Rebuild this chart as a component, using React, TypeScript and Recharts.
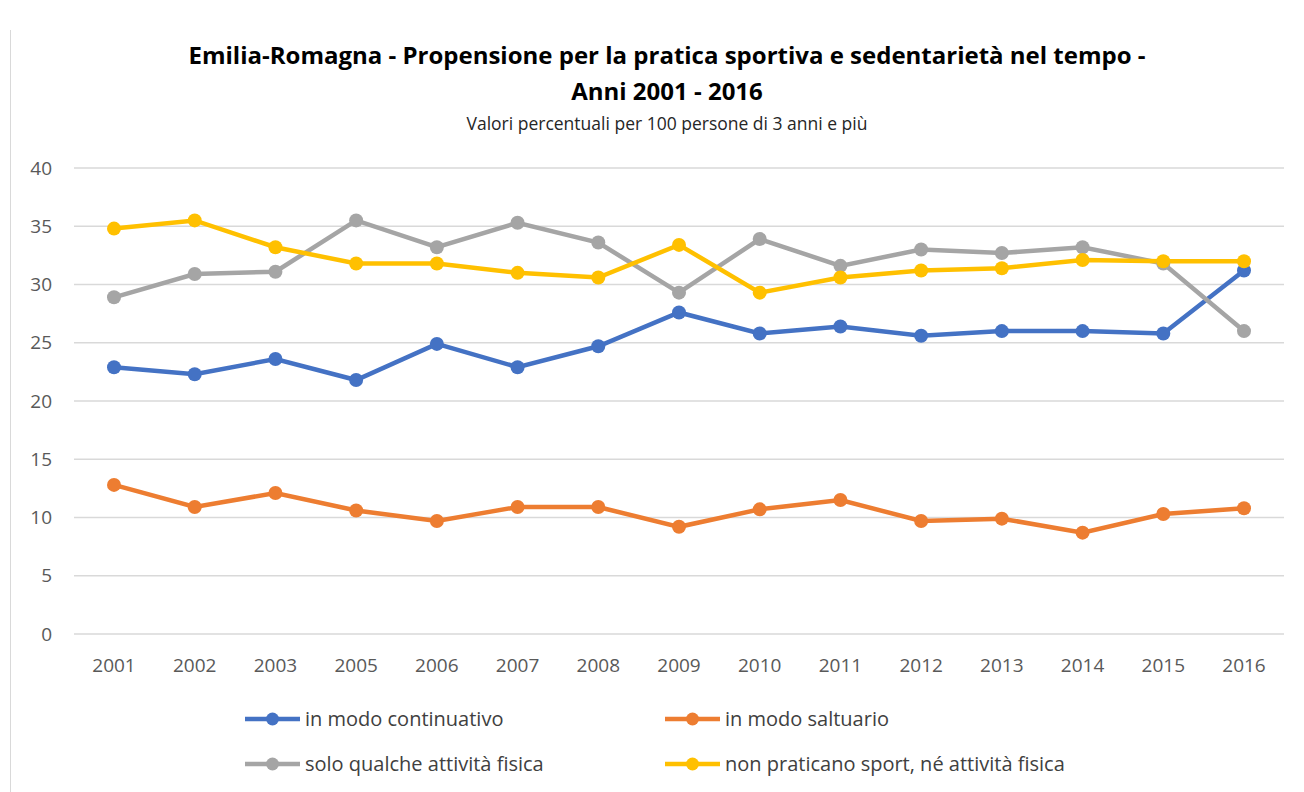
import React from 'react';
import { LineChart, Line, XAxis, YAxis, CartesianGrid, Legend } from 'recharts';

const years = ['2001', '2002', '2003', '2005', '2006', '2007', '2008', '2009', '2010', '2011', '2012', '2013', '2014', '2015', '2016'];
const continuativo = [22.9, 22.3, 23.6, 21.8, 24.9, 22.9, 24.7, 27.6, 25.8, 26.4, 25.6, 26.0, 26.0, 25.8, 31.2];
const saltuario = [12.8, 10.9, 12.1, 10.6, 9.7, 10.9, 10.9, 9.2, 10.7, 11.5, 9.7, 9.9, 8.7, 10.3, 10.8];
const qualche = [28.9, 30.9, 31.1, 35.5, 33.2, 35.3, 33.6, 29.3, 33.9, 31.6, 33.0, 32.7, 33.2, 31.8, 26.0];
const nonPraticano = [34.8, 35.5, 33.2, 31.8, 31.8, 31.0, 30.6, 33.4, 29.3, 30.6, 31.2, 31.4, 32.1, 32.0, 32.0];
const yTicks = [0, 5, 10, 15, 20, 25, 30, 35, 40];

const series = [
  { key: 'continuativo', name: 'in modo continuativo', color: '#4472C4' },
  { key: 'saltuario', name: 'in modo saltuario', color: '#ED7D31' },
  { key: 'qualche', name: 'solo qualche attività fisica', color: '#A5A5A5' },
  { key: 'nonPraticano', name: 'non praticano sport, né attività fisica', color: '#FFC000' },
];

const data = years.map((y, i) => ({
  year: y,
  continuativo: continuativo[i],
  saltuario: saltuario[i],
  qualche: qualche[i],
  nonPraticano: nonPraticano[i],
}));

const FONT = '"Open Sans", "Noto Sans", sans-serif';

const LegendItem = ({ name, color }: { name: string; color: string }) => (
  <div style={{ display: 'flex', alignItems: 'center', width: 420, height: 45 }}>
    <svg width={58} height={16} style={{ marginRight: 2, flex: 'none' }}>
      <line x1={0} y1={8} x2={55} y2={8} stroke={color} strokeWidth={4.5} />
      <circle cx={27.5} cy={8} r={6.5} fill={color} />
    </svg>
    <span style={{ fontSize: 20, color: '#404040', fontFamily: FONT, whiteSpace: 'nowrap' }}>{name}</span>
  </div>
);

const renderLegend = () => (
  <div style={{ height: 90, paddingLeft: 231, paddingTop: 22, boxSizing: 'border-box', display: 'flex', flexWrap: 'wrap', width: 1100 }}>
    {series.map(s => (
      <LegendItem key={s.key} name={s.name} color={s.color} />
    ))}
  </div>
);

const App: React.FC = () => {
  return (
    <div style={{ position: 'absolute', left: 0, top: 0, width: 1304, height: 792, background: '#fff', fontFamily: FONT, overflow: 'hidden' }}>
      <div style={{ position: 'absolute', left: 10, top: 30, width: 1, height: 762, background: '#d9d9d9' }} />
      <div style={{ position: 'absolute', left: 0, top: 37, width: 1334, textAlign: 'center', fontWeight: 700, fontSize: 24, color: '#000', lineHeight: '36px' }}>
        Emilia-Romagna - Propensione per la pratica sportiva e sedentarietà nel tempo -
        <br />
        Anni 2001 - 2016
      </div>
      <div style={{ position: 'absolute', left: 0, top: 111, width: 1334, textAlign: 'center', fontSize: 17.5, color: '#262626' }}>
        Valori percentuali per 100 persone di 3 anni e più
      </div>
      <div style={{ position: 'absolute', left: 0, top: 0 }}>
        <LineChart width={1304} height={792} data={data} margin={{ top: 168, right: 20, bottom: 28, left: 14 }}>
          <CartesianGrid vertical={false} stroke="#d9d9d9" strokeWidth={1.5} />
          <XAxis
            dataKey="year"
            axisLine={false}
            tickLine={false}
            height={40}
            padding={{ left: 40, right: 40 }}
            tick={{ fill: '#595959', fontSize: 19, fontFamily: FONT }}
            tickMargin={19}
          />
          <YAxis
            domain={[0, 40]}
            ticks={yTicks}
            axisLine={false}
            tickLine={false}
            width={60}
            tick={{ fill: '#595959', fontSize: 19, fontFamily: FONT }}
            tickMargin={16}
          />
          <Legend verticalAlign="bottom" content={renderLegend} />
          {series.map(s => (
            <Line
              key={s.key}
              dataKey={s.key}
              name={s.name}
              stroke={s.color}
              strokeWidth={4.5}
              dot={{ r: 7, fill: s.color, stroke: s.color, strokeWidth: 0 }}
              type="linear"
              isAnimationActive={false}
            />
          ))}
        </LineChart>
      </div>
    </div>
  );
};

export default App;
